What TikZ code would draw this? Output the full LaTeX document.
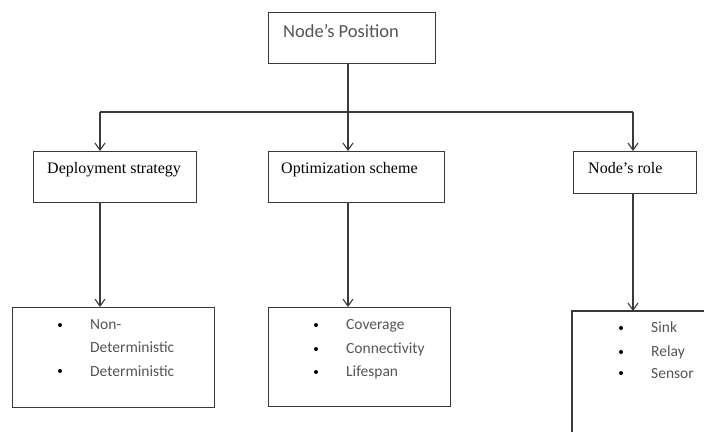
\documentclass[tikz,border=0pt]{standalone}
\usepackage{fontspec}
\setmainfont{Liberation Serif}
\newfontfamily\calfont{Carlito}
\usetikzlibrary{arrows.meta}
\definecolor{linec}{HTML}{3A3A3A}
\definecolor{graytext}{HTML}{555555}
\begin{document}
\begin{tikzpicture}[x=1pt,y=-1pt,
  boxline/.style={draw=linec,line width=1.2pt},
  conn/.style={draw=linec,line width=1.2pt},
  arr/.style={conn,-{Straight Barb[length=7pt,width=10pt,line width=1.1pt]}},
  serift/.style={anchor=base west,inner sep=0pt,font=\fontsize{16}{19}\selectfont,text=black},
  topt/.style={anchor=base west,inner sep=0pt,font=\calfont\fontsize{18.5}{22}\selectfont,text=graytext},
  itemt/.style={anchor=base west,inner sep=0pt,font=\calfont\fontsize{15.5}{18}\selectfont,text=graytext},
  dot/.style={circle,fill=black,inner sep=0pt,minimum size=4pt}]
\useasboundingbox (0,0) rectangle (704,431);
\fill[white] (0,0) rectangle (704,431);
% boxes
\node[boxline,rectangle,anchor=north west,minimum width=167pt,minimum height=51pt,inner sep=0pt] (top) at (268,12) {};
\node[boxline,rectangle,anchor=north west,minimum width=163pt,minimum height=51pt,inner sep=0pt] (dep) at (33,151) {};
\node[boxline,rectangle,anchor=north west,minimum width=176pt,minimum height=51pt,inner sep=0pt] (opt) at (268,151) {};
\node[boxline,rectangle,anchor=north west,minimum width=123pt,minimum height=42pt,inner sep=0pt] (role) at (573,151) {};
\node[boxline,rectangle,anchor=north west,minimum width=202pt,minimum height=100pt,inner sep=0pt] (b1) at (12,307) {};
\node[boxline,rectangle,anchor=north west,minimum width=182pt,minimum height=99pt,inner sep=0pt] (b2) at (268,307) {};
\coordinate (b3tl) at (572,311);
\coordinate (b3tr) at (706,311);
\coordinate (b3bl) at (572,433);
\draw[boxline] (b3tr) -- (b3tl) -- (b3bl);
% texts
\node[topt] (tt) at (283,37) {Node’s Position};
\node[serift] (tdep) at (47,173) {Deployment strategy};
\node[serift] (topt) at (281,173) {Optimization scheme};
\node[serift] (trole) at (588,173) {Node’s role};
% list 1
\node[dot] (d11) at (60,325) {};
\node[itemt] (i11) at (90,329) {Non-};
\node[itemt] (i12) at (90,352) {Deterministic};
\node[dot] (d12) at (60,371) {};
\node[itemt] (i13) at (90,376) {Deterministic};
% list 2
\node[dot] (d21) at (316,325) {};
\node[itemt] (i21) at (346,329) {Coverage};
\node[dot] (d22) at (316,349) {};
\node[itemt] (i22) at (346,353) {Connectivity};
\node[dot] (d23) at (316,372) {};
\node[itemt] (i23) at (346,376) {Lifespan};
% list 3
\node[dot] (d31) at (621,328) {};
\node[itemt] (i31) at (651,332) {Sink};
\node[dot] (d32) at (621,352) {};
\node[itemt] (i32) at (651,356) {Relay};
\node[dot] (d33) at (621,373) {};
\node[itemt] (i33) at (651,378) {Sensor};
% connectors
\coordinate (hj) at (348,112);
\coordinate (hl) at (100,112);
\coordinate (hr) at (633,112);
\draw[conn] (top.south -| hj) -- (hj);
\draw[conn] (hl) -- (hr);
\draw[arr] (hl) -- (hl |- dep.north);
\draw[arr] (hj) -- (hj |- opt.north);
\draw[arr] (hr) -- (hr |- role.north);
\draw[arr] (dep.south -| hl) -- (hl |- b1.north);
\draw[arr] (opt.south -| hj) -- (hj |- b2.north);
\draw[arr] (role.south -| hr) -- (b3tl -| hr);
\end{tikzpicture}
\end{document}
